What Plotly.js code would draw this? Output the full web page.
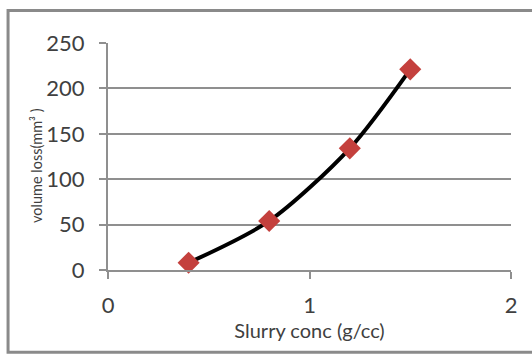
<!DOCTYPE html>
<html><head><meta charset="utf-8">
<script src="https://cdn.plot.ly/plotly-3.0.1.min.js"></script>
<style>html,body{margin:0;padding:0;background:#fff;}#chart{width:532px;height:356px;}</style>
</head><body><div id="chart"></div>
<script>
const slurryConc = [0.4, 0.8, 1.2, 1.5];
const volumeLoss = [8, 54, 134, 221];
const xTicks = [0, 1, 2];
const yTicks = [0, 50, 100, 150, 200, 250];

const trace = {
  x: slurryConc, y: volumeLoss, type: 'scatter', mode: 'lines+markers',
  line: {color: '#000000', width: 4, shape: 'spline', smoothing: 0.8},
  marker: {symbol: 'diamond', size: 17, color: '#C4403D'},
  cliponaxis: false, showlegend: false
};
const gridCol = '#8f8f8f';
const layout = {
  width: 532, height: 356,
  margin: {l: 108, r: 21, t: 43, b: 86},
  paper_bgcolor: '#ffffff', plot_bgcolor: '#ffffff',
  font: {family: 'Lato, "Open Sans", sans-serif', color: '#404040'},
  xaxis: {
    range: [0, 2], tickvals: xTicks, ticktext: xTicks.map(String),
    showgrid: false, zeroline: false, showline: true, linecolor: gridCol, linewidth: 2,
    ticks: 'outside', ticklen: 7, tickwidth: 2, tickcolor: gridCol,
    ticklabelstandoff: 8,
    tickfont: {size: 22, color: '#404040'},
    title: {text: 'Slurry conc (g/cc)', font: {size: 20, color: '#404040'}, standoff: 6}
  },
  yaxis: {
    range: [0, 250], tickvals: yTicks, ticktext: yTicks.map(String),
    showgrid: true, gridcolor: gridCol, gridwidth: 2,
    zeroline: false, showline: true, linecolor: gridCol, linewidth: 2,
    ticks: 'outside', ticklen: 7, tickwidth: 2, tickcolor: gridCol,
    ticklabelstandoff: 10,
    tickfont: {size: 22, color: '#404040'}
  },
  annotations: [{
    text: 'volume loss(mm³ )', textangle: -90, showarrow: false,
    xref: 'paper', yref: 'paper', x: (36 - 108) / 403, y: (270 - 166) / 227,
    xanchor: 'center', yanchor: 'middle',
    font: {size: 14.5, color: '#404040'}
  }],
  shapes: [{
    type: 'rect', xref: 'paper', yref: 'paper',
    x0: -0.248, x1: 1.2, y0: -0.362, y1: 1.143,
    line: {color: '#8a8a8a', width: 3}, fillcolor: 'rgba(0,0,0,0)', layer: 'below'
  }]
};
Plotly.newPlot('chart', [trace], layout, {displayModeBar: false, staticPlot: true});
</script></body></html>
